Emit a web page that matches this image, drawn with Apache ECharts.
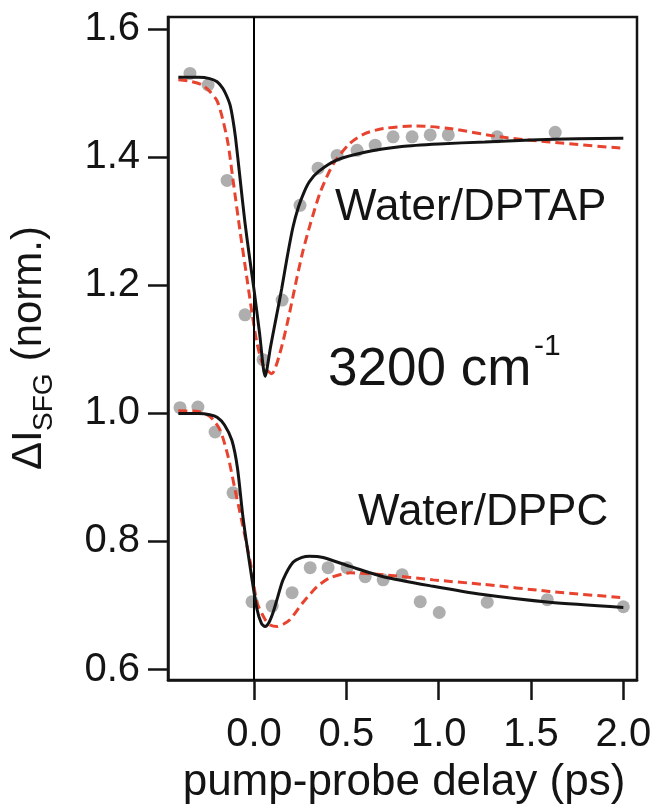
<!DOCTYPE html>
<html>
<head>
<meta charset="utf-8">
<script src="https://cdn.jsdelivr.net/npm/echarts@6/dist/echarts.min.js"></script>
<style>
  html, body { margin: 0; padding: 0; background: #ffffff; }
  #chart { width: 654px; height: 808px; }
</style>
</head>
<body>
<div id="chart"></div>
<script>
// Measured SFG transients (gray dots)
const delayDptap = [-0.347, -0.249, -0.146, -0.049, 0.049, 0.152, 0.249, 0.347, 0.45, 0.558, 0.656, 0.753, 0.856, 0.954, 1.052, 1.317, 1.631];
const signalDptap = [1.531, 1.513, 1.364, 1.154, 1.084, 1.177, 1.325, 1.383, 1.403, 1.411, 1.419, 1.432, 1.432, 1.435, 1.435, 1.432, 1.439];

const delayDppc = [-0.401, -0.304, -0.211, -0.114, -0.011, 0.098, 0.206, 0.304, 0.401, 0.504, 0.602, 0.699, 0.802, 0.900, 1.003, 1.263, 1.588, 2.0];
const signalDppc = [1.009, 1.010, 0.971, 0.876, 0.706, 0.699, 0.720, 0.759, 0.759, 0.759, 0.745, 0.740, 0.748, 0.706, 0.689, 0.705, 0.709, 0.698];

// Model curves: solid black and dashed red, for each interface
const fitDptapSolidT = [-0.41, -0.30, -0.24, -0.20, -0.17, -0.15, -0.13, -0.115, -0.10, -0.075, -0.05, -0.025, 0.0, 0.03, 0.06, 0.09, 0.12, 0.15, 0.18, 0.21, 0.24, 0.27, 0.30, 0.35, 0.45, 0.60, 0.80, 1.00, 1.25, 1.50, 1.75, 2.00];
const fitDptapSolidV = [1.525, 1.525, 1.523, 1.518, 1.508, 1.497, 1.482, 1.46, 1.43, 1.365, 1.30, 1.245, 1.193, 1.125, 1.058, 1.105, 1.15, 1.195, 1.245, 1.29, 1.322, 1.345, 1.362, 1.378, 1.396, 1.408, 1.417, 1.421, 1.424, 1.427, 1.429, 1.430];

const fitDptapDashT = [-0.41, -0.35, -0.28, -0.24, -0.20, -0.17, -0.14, -0.114, -0.076, -0.038, -0.01, 0.016, 0.05, 0.096, 0.14, 0.184, 0.233, 0.266, 0.304, 0.358, 0.43, 0.52, 0.60, 0.70, 0.88, 1.06, 1.33, 1.60, 2.00];
const fitDptapDashV = [1.521, 1.519, 1.513, 1.503, 1.488, 1.46, 1.42, 1.365, 1.285, 1.21, 1.155, 1.11, 1.075, 1.062, 1.094, 1.146, 1.213, 1.255, 1.295, 1.345, 1.39, 1.422, 1.437, 1.445, 1.449, 1.445, 1.432, 1.424, 1.414];

const fitDppcSolidT = [-0.41, -0.30, -0.24, -0.20, -0.16, -0.12, -0.09, -0.06, -0.02, 0.016, 0.04, 0.06, 0.08, 0.103, 0.13, 0.157, 0.21, 0.26, 0.30, 0.374, 0.52, 0.70, 0.97, 1.24, 1.60, 2.00];
const fitDppcSolidV = [1.0, 1.0, 0.998, 0.994, 0.982, 0.958, 0.915, 0.838, 0.758, 0.694, 0.672, 0.667, 0.673, 0.689, 0.715, 0.740, 0.767, 0.775, 0.777, 0.775, 0.761, 0.745, 0.730, 0.717, 0.705, 0.697];

const fitDppcDashT = [-0.41, -0.30, -0.238, -0.184, -0.14, -0.103, -0.076, -0.02, 0.016, 0.06, 0.09, 0.125, 0.16, 0.195, 0.266, 0.34, 0.41, 0.52, 0.70, 0.97, 1.24, 1.60, 2.00];
const fitDppcDashV = [1.004, 1.003, 0.995, 0.974, 0.932, 0.881, 0.845, 0.767, 0.705, 0.678, 0.669, 0.667, 0.671, 0.678, 0.705, 0.729, 0.743, 0.751, 0.748, 0.740, 0.733, 0.722, 0.712];

// Axis ticks
const xTicks = [0.0, 0.5, 1.0, 1.5, 2.0];
const yTicks = [0.6, 0.8, 1.0, 1.2, 1.4, 1.6];

const zip = (xs, ys) => xs.map((x, i) => [x, ys[i]]);

const FONT = 'Liberation Sans, Arial, Helvetica, sans-serif';
const INK = '#141414';
const RED = '#e8432e';
const GRAY = '#9a9a9a';

const chart = echarts.init(document.getElementById('chart'), null, { renderer: 'canvas' });

function fitLine(name, data, dashed) {
  return {
    name: name,
    type: 'line',
    data: data,
    showSymbol: false,
    smooth: 0.25,
    silent: true,
    z: dashed ? 4 : 5,
    lineStyle: {
      color: dashed ? RED : INK,
      width: 3,
      type: dashed ? [9, 5] : 'solid'
    }
  };
}

const option = {
  backgroundColor: '#ffffff',
  animation: false,
  grid: {
    left: 168, right: 17, top: 17, bottom: 128,
    show: true,
    borderColor: INK,
    borderWidth: 2.5,
    containLabel: false,
    outerBoundsMode: 'none'
  },
  xAxis: {
    type: 'value',
    min: -0.466,
    max: 2.074,
    splitLine: { show: false },
    axisLine: { show: true, onZero: false, lineStyle: { color: INK, width: 2.5 } },
    axisTick: {
      show: true, inside: false, length: 20,
      customValues: xTicks,
      lineStyle: { color: INK, width: 2.5 }
    },
    axisLabel: {
      show: true,
      customValues: xTicks,
      margin: 35,
      fontSize: 40,
      fontFamily: FONT,
      color: INK,
      formatter: v => v.toFixed(1)
    }
  },
  yAxis: {
    type: 'value',
    min: 0.5836,
    max: 1.6192,
    splitLine: { show: false },
    axisLine: { show: true, onZero: false, lineStyle: { color: INK, width: 2.5 } },
    axisTick: {
      show: true, inside: false, length: 20,
      customValues: yTicks,
      lineStyle: { color: INK, width: 2.5 }
    },
    axisLabel: {
      show: true,
      customValues: yTicks,
      margin: 28,
      fontSize: 40,
      fontFamily: FONT,
      color: INK,
      formatter: v => v.toFixed(1)
    }
  },
  series: [
    {
      name: 'Water/DPTAP data',
      type: 'scatter',
      data: zip(delayDptap, signalDptap),
      symbol: 'circle',
      symbolSize: 13,
      itemStyle: { color: GRAY },
      silent: true,
      z: 2,
      markLine: {
        silent: true,
        symbol: ['none', 'none'],
        label: { show: false },
        lineStyle: { color: '#000000', width: 2, type: 'solid', opacity: 1 },
        data: [{ xAxis: 0 }]
      }
    },
    {
      name: 'Water/DPPC data',
      type: 'scatter',
      data: zip(delayDppc, signalDppc),
      symbol: 'circle',
      symbolSize: 13,
      itemStyle: { color: GRAY },
      silent: true,
      z: 2
    },
    fitLine('DPTAP dashed', zip(fitDptapDashT, fitDptapDashV), true),
    fitLine('DPTAP solid', zip(fitDptapSolidT, fitDptapSolidV), false),
    fitLine('DPPC dashed', zip(fitDppcDashT, fitDppcDashV), true),
    fitLine('DPPC solid', zip(fitDppcSolidT, fitDppcSolidV), false)
  ],
  graphic: [
    {
      type: 'text', x: 335, y: 208,
      style: { text: 'Water/DPTAP', font: '44px ' + FONT, fill: INK, align: 'left', verticalAlign: 'middle' }
    },
    {
      type: 'text', x: 358, y: 513,
      style: { text: 'Water/DPPC', font: '44px ' + FONT, fill: INK, align: 'left', verticalAlign: 'middle' }
    },
    {
      type: 'text', x: 328, y: 370,
      style: { text: '3200 cm', font: '53px ' + FONT, fill: INK, align: 'left', verticalAlign: 'middle' }
    },
    {
      type: 'text', x: 534, y: 347,
      style: { text: '-1', font: '30px ' + FONT, fill: INK, align: 'left', verticalAlign: 'middle' }
    },
    {
      type: 'text', x: 404, y: 783,
      style: { text: 'pump-probe delay (ps)', font: '44px ' + FONT, fill: INK, align: 'center', verticalAlign: 'middle' }
    },
    {
      type: 'group',
      x: 0, y: 470,
      rotation: Math.PI / 2,
      children: [
        { type: 'text', x: 0, y: 29, style: { text: 'ΔI', font: '42px ' + FONT, fill: INK, align: 'left', verticalAlign: 'middle' } },
        { type: 'text', x: 39, y: 44, style: { text: 'SFG', font: '28px ' + FONT, fill: INK, align: 'left', verticalAlign: 'middle' } },
        { type: 'text', x: 97, y: 29, style: { text: ' (norm.)', font: '42px ' + FONT, fill: INK, align: 'left', verticalAlign: 'middle' } }
      ]
    }
  ]
};

chart.setOption(option);
</script>
</body>
</html>
